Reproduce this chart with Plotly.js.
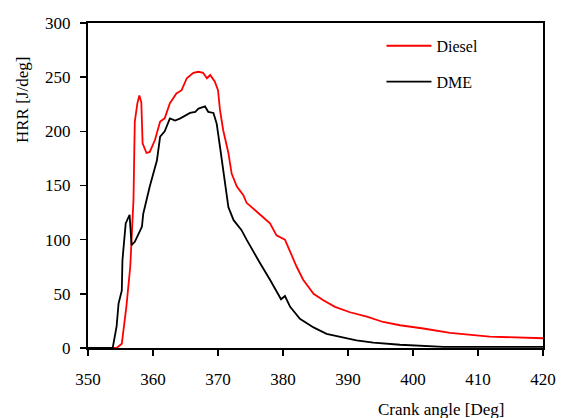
<!DOCTYPE html>
<html>
<head>
<meta charset="utf-8">
<script src="https://cdn.plot.ly/plotly-3.0.1.min.js"></script>
<style>html,body{margin:0;padding:0;background:#fff;}#chart{width:565px;height:418px;}</style>
</head>
<body>
<div id="chart"></div>
<script>
// Diesel HRR
const dieselAngle = [350,354.4,355.2,355.9,356.5,356.7,357,357.1,357.2,357.6,357.9,358.2,358.4,359,359.5,360.3,361.1,361.8,362.6,363.6,364.4,365.2,366.2,367,367.7,368.3,368.8,369.5,370,370.3,370.8,371.6,372.1,372.9,373.9,374.4,375.4,376.5,378,379,380.3,381.1,382.1,383.1,384.7,386.2,388,390.3,392.9,395.4,398,401.6,405.7,411.8,418,420];
const dieselHRR   = [0,0,4,38,75,106,137,174,209,226,233,227,189,180,181,192,209,212,226,235,238,249,254,255,254,249,252,246,238,220,201,180,161,149,141,134,129,123,115,104,100,89,75,63,50,44,38,33,29,24,21,18,14,10.5,9,9];
// DME HRR
const dmeAngle = [350,353.8,354.4,354.7,355.2,355.3,355.8,356.4,356.7,357.2,358.3,358.5,359.5,360.6,361.1,361.8,362.6,363.4,364.2,365.7,366.5,367,368,368.5,369.3,369.8,370.3,371.1,371.6,372.4,373.6,374.4,375.4,376.5,378,379.7,380.3,381.1,382.6,384.7,386.7,388.8,391.3,393.9,398,404.7,420];
const dmeHRR   = [0,0,20,41,53,81,115,123,95,98,112,124,149,173,195,200,212,210,212,217,218,221,223,218,217,207,186,149,130,118,109,100,89,78,63,45,48,38,27,19,13,10,7,5,3,1,1];

const seriesNames = ["Diesel","DME"];
const xTicks = [350,360,370,380,390,400,410,420];
const yTicks = [0,50,100,150,200,250,300];

const font = {family:"Liberation Serif", size:17, color:"#000"};
const tickFont = {family:"Times New Roman", size:17, color:"#000", weight:"normal"};

const traces = [
  {x:dieselAngle, y:dieselHRR, name:seriesNames[0], mode:"lines", line:{color:"#ff0000", width:1.8}, legendgroup:"a"},
  {x:dmeAngle, y:dmeHRR, name:seriesNames[1], mode:"lines", line:{color:"#000000", width:1.8}, legendgroup:"b"}
];

const layout = {
  width:565, height:418,
  margin:{l:88, r:22, t:23, b:70},
  paper_bgcolor:"#fff", plot_bgcolor:"#fff",
  font:font,
  showlegend:true,
  legend:{x:0.645, y:0.982, xanchor:"left", yanchor:"top", bgcolor:"rgba(0,0,0,0)", itemwidth:45, tracegroupgap:12, font:{family:"Liberation Serif", size:16, color:"#000"}},
  xaxis:{range:[350,420], tickvals:xTicks, ticktext:xTicks.map(String), ticks:"outside", ticklen:6, tickwidth:1.5, tickcolor:"#000",
         showline:true, linewidth:2, linecolor:"#000", mirror:true, showgrid:false, zeroline:false,
         ticklabelstandoff:9, tickfont:tickFont},
  yaxis:{range:[0,300], tickvals:yTicks, ticktext:yTicks.map(String), ticks:"outside", ticklen:6, tickwidth:1.5, tickcolor:"#000",
         showline:true, linewidth:2, linecolor:"#000", mirror:true, showgrid:false, zeroline:false,
         ticklabelstandoff:6, tickfont:tickFont},
  annotations:[
    {text:"Crank angle [Deg]", xref:"paper", yref:"paper", x:1.0, y:-0.155, xanchor:"right", yanchor:"top", showarrow:false, font:font, xshift:-36},
    {text:"HRR [J/deg]", xref:"paper", yref:"paper", x:0, y:0.763, xanchor:"center", yanchor:"middle", textangle:-90, showarrow:false, font:font, xshift:-66}
  ]
};

Plotly.newPlot("chart", traces, layout, {displayModeBar:false, staticPlot:true});
</script>
</body>
</html>
